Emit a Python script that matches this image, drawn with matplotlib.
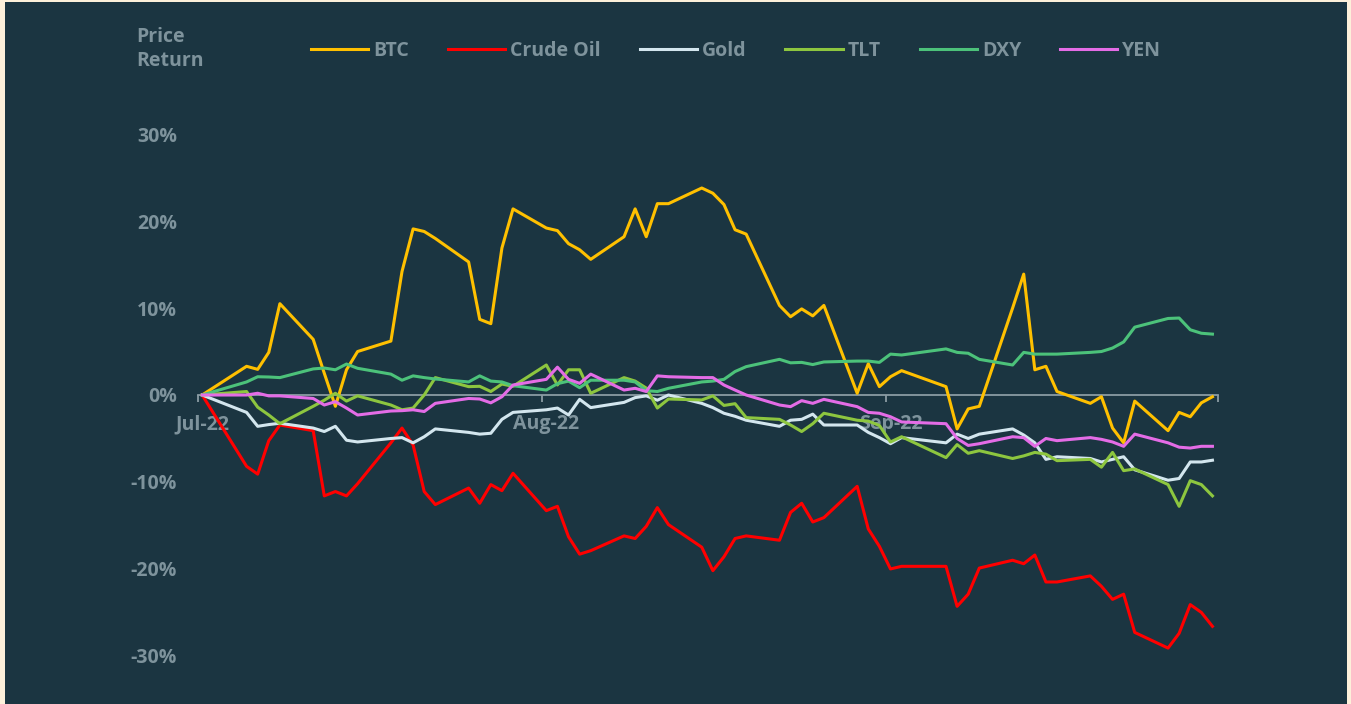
import pandas as pd
import matplotlib
matplotlib.use("Agg")
import matplotlib.pyplot as plt
import matplotlib.dates as mdates
from matplotlib.patches import Rectangle

# handelsdagar jul-sep 2022 (utan 4 jul och 5 sep)
dates = pd.bdate_range("2022-07-01", "2022-09-30")
dates = dates[~dates.isin(pd.to_datetime(["2022-07-04", "2022-09-05"]))]

# avkastning i procent, per månad
btc_jul = [0, 3.3, 2.95, 4.9, 10.5, 6.4, 2.5, -1.3, 2.9, 5.0, 6.2, 14.2, 19.1, 18.8, 18.0, 15.3, 8.7, 8.2, 16.9, 21.4]
btc_aug = [19.2, 18.9, 17.4, 16.7, 15.6, 18.2, 21.4, 18.2, 22.0, 22.0, 23.8, 23.2, 21.9, 19.0, 18.5, 10.3, 9.0, 9.9, 9.1, 10.3, 0.2, 3.6, 0.96]
btc_sep = [2.1, 2.8, 0.96, -3.9, -1.6, -1.3, 10.0, 13.9, 2.9, 3.3, 0.4, -0.96, -0.2, -3.8, -5.5, -0.7, -4.1, -2.0, -2.5, -0.9, -0.2]

oil_jul = [0, -8.2, -9.1, -5.25, -3.45, -4.1, -11.6, -11.1, -11.6, -10.2, -5.5, -3.8, -5.75, -11.1, -12.6, -10.7, -12.45, -10.3, -11.0, -9.0]
oil_aug = [-13.3, -12.8, -16.3, -18.3, -17.9, -16.2, -16.5, -15.1, -12.95, -14.9, -17.5, -20.2, -18.6, -16.5, -16.2, -16.7, -13.5, -12.45, -14.6, -14.1, -10.5, -15.4, -17.4]
oil_sep = [-20.0, -19.7, -19.7, -24.3, -22.9, -19.9, -19.0, -19.4, -18.4, -21.5, -21.5, -20.8, -22.0, -23.5, -22.9, -27.3, -29.1, -27.4, -24.1, -25.0, -26.6]

gold_jul = [0, -2.0, -3.6, -3.4, -3.25, -3.8, -4.2, -3.6, -5.2, -5.4, -5.0, -4.9, -5.5, -4.8, -3.9, -4.3, -4.5, -4.4, -2.8, -2.0]
gold_aug = [-1.7, -1.5, -2.3, -0.5, -1.45, -0.85, -0.3, -0.1, -0.6, 0.0, -0.96, -1.45, -2.1, -2.45, -2.9, -3.6, -2.9, -2.8, -2.2, -3.45, -3.45, -4.3, -4.9]
gold_sep = [-5.6, -4.9, -5.5, -4.5, -5.0, -4.5, -3.9, -4.6, -5.5, -7.4, -7.1, -7.3, -7.7, -7.4, -7.1, -8.6, -9.8, -9.6, -7.7, -7.7, -7.5]

tlt_jul = [0, 0.4, -1.4, -2.3, -3.3, -1.3, -0.6, 0.2, -0.7, -0.1, -1.15, -1.7, -1.5, 0.0, 2.0, 0.96, 1.0, 0.4, 1.26, 1.0]
tlt_aug = [3.45, 1.15, 2.9, 2.9, 0.2, 2.0, 1.6, 0.8, -1.5, -0.46, -0.57, -0.1, -1.2, -1.0, -2.6, -2.8, -3.45, -4.2, -3.3, -2.1, -2.9, -3.0, -3.5]
tlt_sep = [-5.4, -4.8, -7.2, -5.7, -6.7, -6.4, -7.3, -7.0, -6.6, -6.8, -7.55, -7.4, -8.3, -6.6, -8.7, -8.5, -10.3, -12.8, -9.85, -10.3, -11.6]

dxy_jul = [0, 1.5, 2.1, 2.07, 2.0, 3.0, 3.1, 2.9, 3.56, 3.07, 2.4, 1.7, 2.2, 2.0, 1.84, 1.5, 2.2, 1.6, 1.5, 1.07]
dxy_aug = [0.57, 1.3, 1.6, 0.84, 1.7, 1.7, 1.5, 0.5, 0.4, 0.77, 1.5, 1.6, 1.8, 2.7, 3.26, 4.1, 3.7, 3.75, 3.5, 3.8, 3.9, 3.9, 3.75]
dxy_sep = [4.7, 4.6, 5.3, 4.9, 4.8, 4.1, 3.45, 4.9, 4.7, 4.7, 4.7, 4.9, 5.0, 5.4, 6.1, 7.8, 8.8, 8.85, 7.5, 7.1, 7.0]

yen_jul = [0, 0, 0.2, -0.1, -0.1, -0.4, -1.15, -0.77, -1.5, -2.3, -1.84, -1.8, -1.7, -1.9, -0.96, -0.4, -0.46, -0.9, -0.2, 1.15]
yen_aug = [1.8, 3.2, 1.8, 1.34, 2.4, 0.57, 0.77, 0.4, 2.2, 2.1, 2.0, 2.0, 1.15, 0.57, 0, -1.15, -1.34, -0.65, -0.96, -0.5, -1.34, -2.0, -2.1]
yen_sep = [-2.5, -3.1, -3.3, -5.0, -5.8, -5.6, -4.8, -4.9, -5.9, -5.0, -5.25, -4.9, -5.1, -5.4, -5.9, -4.5, -5.5, -6.0, -6.1, -5.9, -5.9]

series = ["BTC", "Crude Oil", "Gold", "TLT", "DXY", "YEN"]
values = [btc_jul + btc_aug + btc_sep,
          oil_jul + oil_aug + oil_sep,
          gold_jul + gold_aug + gold_sep,
          tlt_jul + tlt_aug + tlt_sep,
          dxy_jul + dxy_aug + dxy_sep,
          yen_jul + yen_aug + yen_sep]
colors = ["#ffc000", "#ff0000", "#d3e6ee", "#8dc63f", "#4cc27a", "#e46ce6"]

y_ticks = [-30, -20, -10, 0, 10, 20, 30]

bg = "#1b3541"
txt = "#7e939c"
fs = 14
plt.rcParams["font.family"] = ["Open Sans", "DejaVu Sans"]

fig = plt.figure(figsize=(13.51, 7.04), dpi=100, facecolor="#fdf0da")
fig.patches.append(Rectangle((5 / 1351, 0), 1342 / 1351, 702 / 704,
                             transform=fig.transFigure, facecolor=bg,
                             edgecolor="none", zorder=-10))

ax = fig.add_axes([198 / 1351, 22 / 704, 1020 / 1351, 574 / 704])
ax.set_facecolor("none")
ax.set_zorder(1)

for name, vals, c in zip(series, values, colors):
    ax.plot(dates, vals, color=c, lw=2.2, label=name)

ax.set_ylim(-33, 33)
ax.set_xlim(pd.Timestamp("2022-07-01") - pd.Timedelta(hours=9),
            pd.Timestamp("2022-09-30") + pd.Timedelta(hours=12))

for s in ["top", "right", "left"]:
    ax.spines[s].set_visible(False)
ax.spines["bottom"].set_position(("data", 0))
ax.spines["bottom"].set_color("#8a9ba3")
ax.spines["bottom"].set_linewidth(1.3)
ax.spines["bottom"].set_zorder(0.5)

# månadsetiketter mitt på dagen, streck vid månadsgränsen
month_starts = pd.to_datetime(["2022-07-01", "2022-08-01", "2022-09-01"])
ax.set_xticks(month_starts)
ax.xaxis.set_major_formatter(mdates.DateFormatter("%b-%y"))
ax.tick_params(axis="x", which="major", length=0, pad=14, labelsize=fs,
               labelcolor=txt)
edges = list(month_starts - pd.Timedelta(hours=9)) + [pd.Timestamp("2022-09-30") + pd.Timedelta(hours=12)]
ax.set_xticks(edges, minor=True)
ax.tick_params(axis="x", which="minor", length=5, width=1.3, color="#8a9ba3")
for lab in ax.get_xticklabels():
    lab.set_fontweight("bold")

ax.set_yticks(y_ticks)
ax.set_yticklabels([f"{v}%" for v in y_ticks])
ax.tick_params(axis="y", length=0, pad=15, labelsize=fs, labelcolor=txt)
for lab in ax.get_yticklabels():
    lab.set_fontweight("bold")

fig.text(136 / 1351, 1 - 27 / 704, "Price\nReturn", color=txt, fontsize=fs,
         fontweight="bold", va="top", ha="left", linespacing=1.25)

leg = fig.legend(loc="center left", bbox_to_anchor=(311 / 1351, 1 - 51 / 704),
                 ncol=6, frameon=False, borderpad=0, borderaxespad=0,
                 handlelength=2.95, handletextpad=0.25, columnspacing=2.0,
                 prop={"weight": "bold", "size": fs})
for t in leg.get_texts():
    t.set_color(txt)

fig.savefig("out.png", dpi=100, facecolor=fig.get_facecolor())
